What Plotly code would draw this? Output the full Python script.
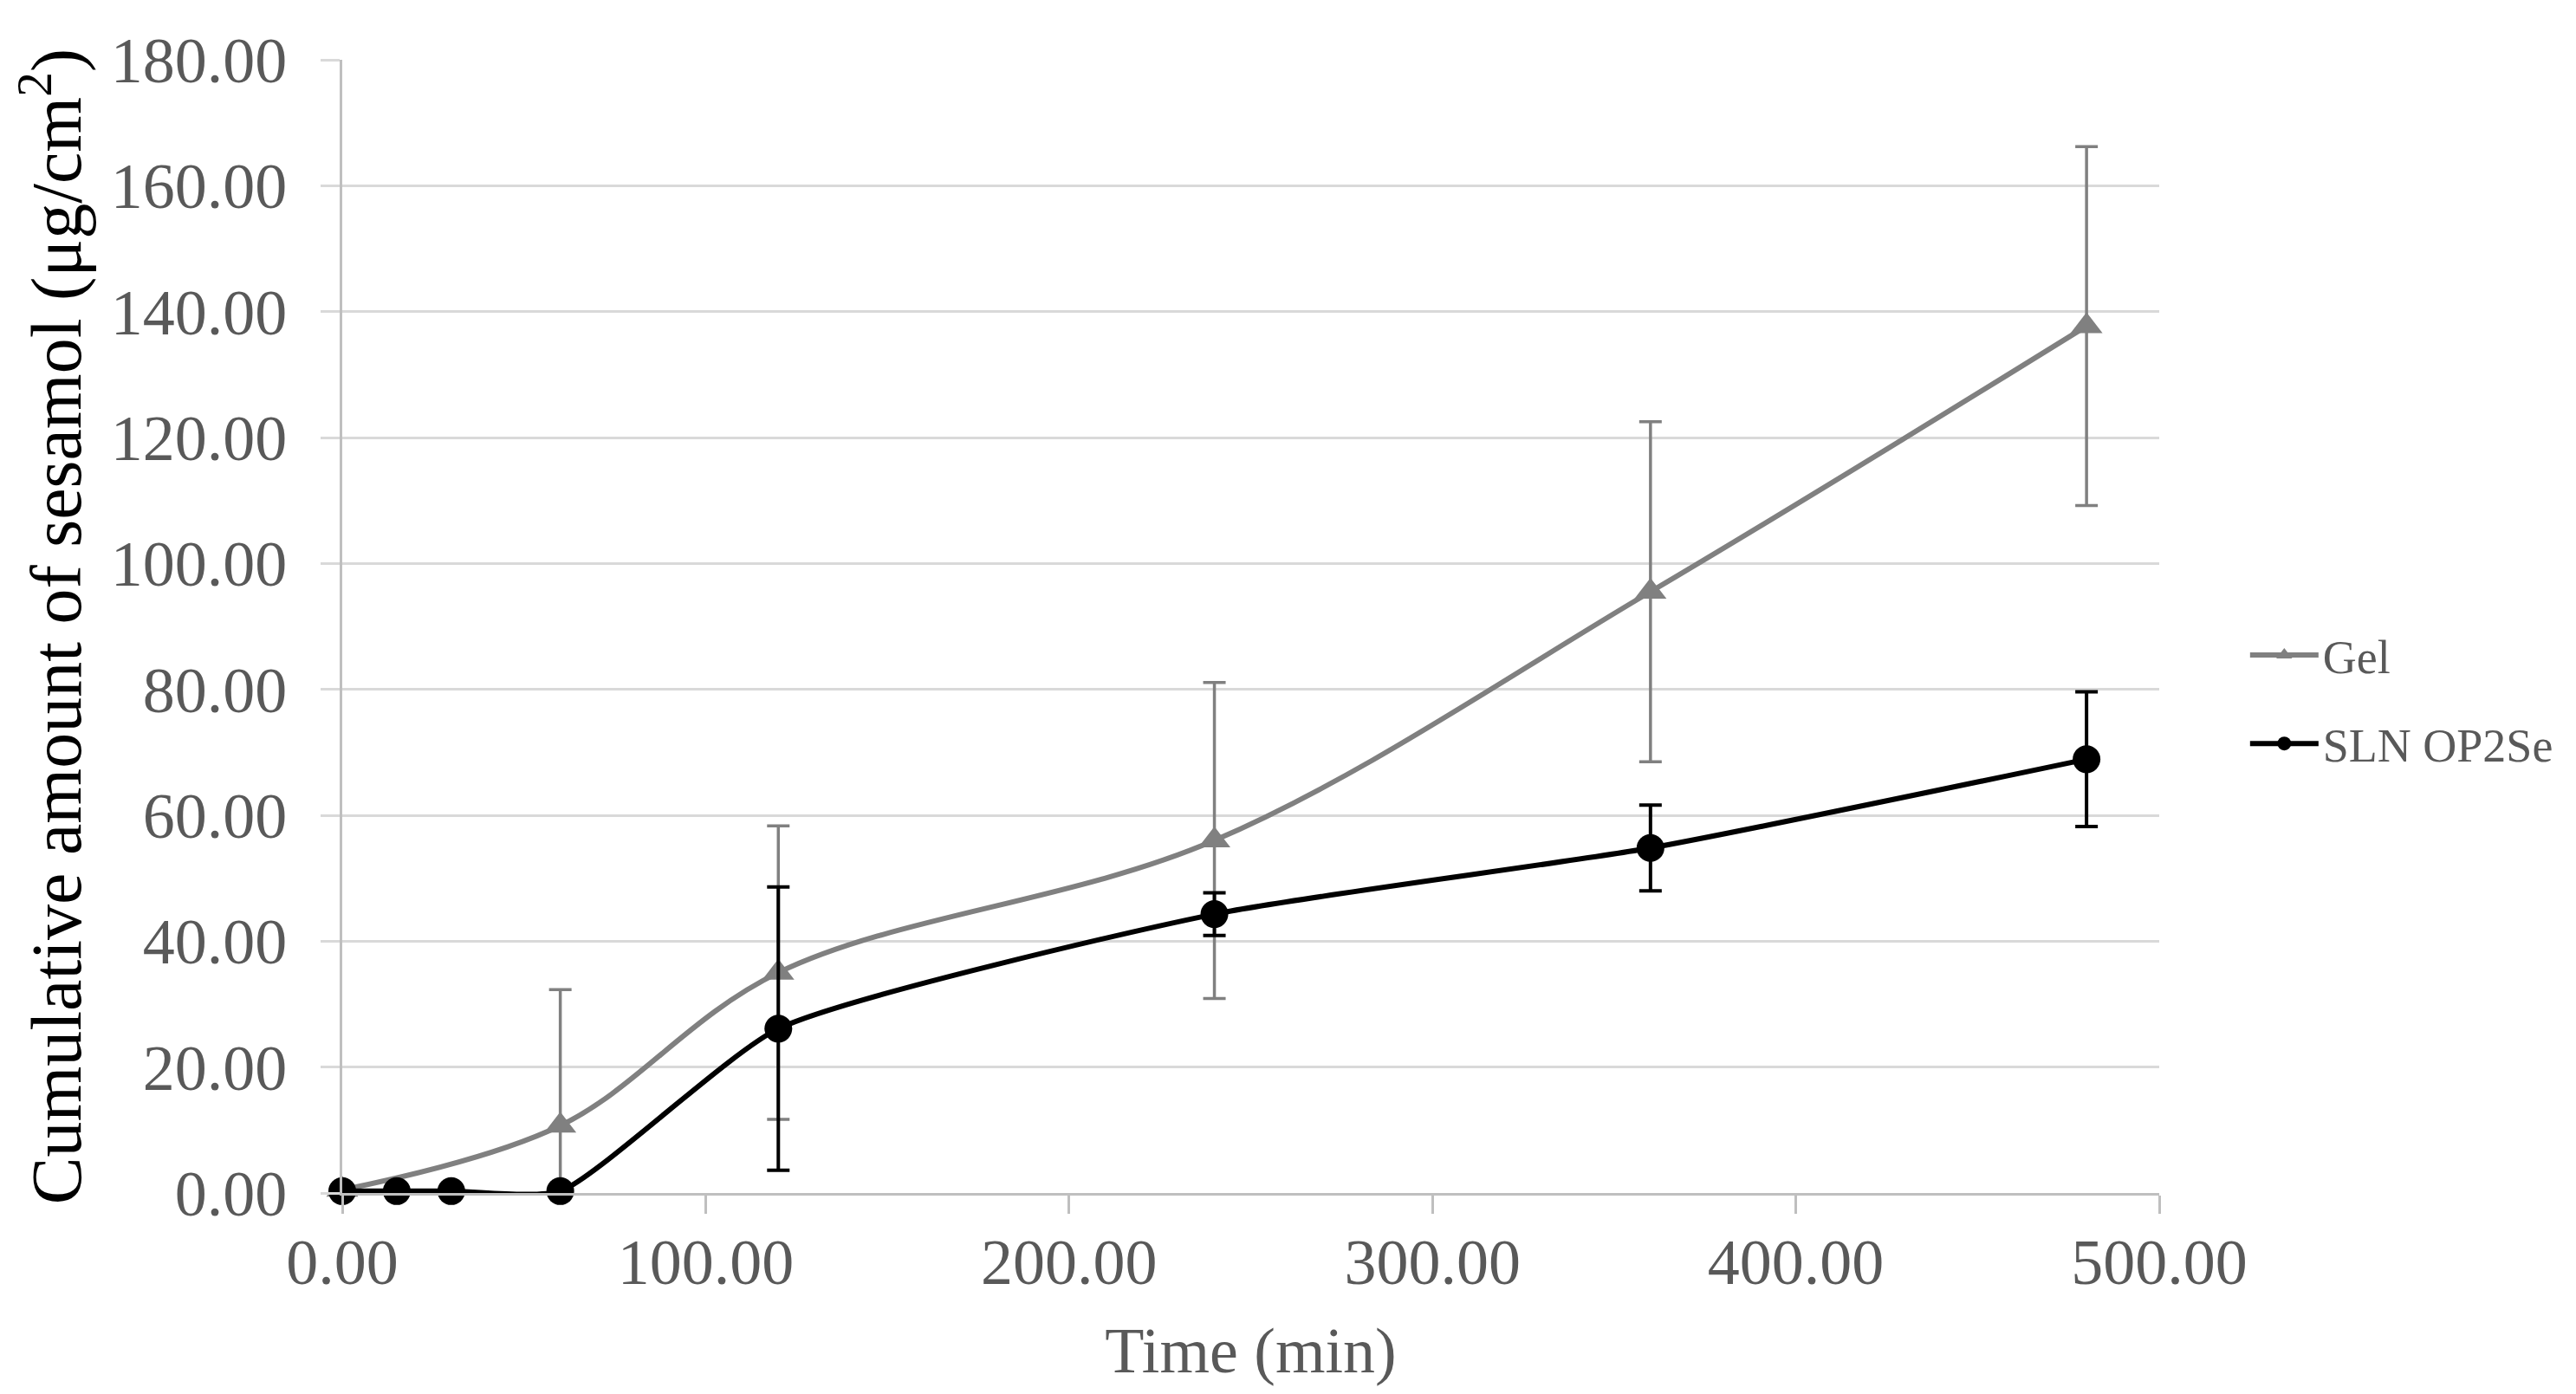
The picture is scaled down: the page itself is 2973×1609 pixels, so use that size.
import plotly.graph_objects as go

# ---- data ----
gel_time = [0, 60, 120, 240, 360, 480]
gel_value = [0.5, 10.7, 35.0, 56.0, 95.5, 137.7]
gel_error = [0.3, 21.6, 23.3, 25.1, 27.0, 28.5]

sln_time = [0, 15, 30, 60, 120, 240, 360, 480]
sln_value = [0.3, 0.3, 0.3, 0.3, 26.1, 44.3, 54.8, 68.9]
sln_error = [0.0, 0.0, 0.0, 0.0, 22.5, 3.4, 6.8, 10.7]

x_ticks = [0, 100, 200, 300, 400, 500]
y_ticks = [0, 20, 40, 60, 80, 100, 120, 140, 160, 180]

FONT = "Liberation Serif"
GRAY = "#808080"
LABEL = "#595959"

fig = go.Figure()

fig.add_trace(go.Scatter(
    x=gel_time, y=gel_value, name="Gel", mode="lines+markers",
    legendgroup="gel",
    line=dict(color=GRAY, width=6, shape="spline", smoothing=1.0),
    marker=dict(symbol="triangle-up", size=32, color=GRAY),
    error_y=dict(type="data", array=gel_error, visible=True,
                 color=GRAY, thickness=3.5, width=13),
    cliponaxis=False,
))

fig.add_trace(go.Scatter(
    x=sln_time, y=sln_value, name="SLN OP2Se", mode="lines+markers",
    legendgroup="sln",
    line=dict(color="black", width=6, shape="spline", smoothing=0.55),
    marker=dict(symbol="circle", size=32, color="black"),
    error_y=dict(type="data", array=sln_error, visible=True,
                 color="black", thickness=4, width=13),
    cliponaxis=False,
))

fig.update_layout(
    width=2973, height=1609,
    margin=dict(l=385, r=489, t=61, b=240),
    paper_bgcolor="white", plot_bgcolor="white",
    font=dict(family=FONT, size=74, color=LABEL),
    showlegend=True,
    legend=dict(
        x=1.0476, y=0.4355, xanchor="left", yanchor="middle",
        font=dict(family=FONT, size=54, color=LABEL),
        tracegroupgap=29, traceorder="grouped",
        bgcolor="rgba(0,0,0,0)", itemwidth=79,
    ),
    xaxis=dict(
        range=[0, 500], tickvals=x_ticks, tickformat=".2f",
        showgrid=False, zeroline=False,
        showline=True, linecolor="#bfbfbf", linewidth=3,
        ticks="outside", ticklen=21, tickwidth=3, tickcolor="#bfbfbf",
        tickfont=dict(family=FONT, size=74, color=LABEL),
        ticklabelstandoff=-8,
        title=dict(text="Time (min)", font=dict(family=FONT, size=74, color=LABEL),
                   standoff=36),
    ),
    yaxis=dict(
        range=[0, 180], tickvals=y_ticks, tickformat=".2f",
        showgrid=True, gridcolor="#d9d9d9", gridwidth=3,
        zeroline=False,
        showline=True, linecolor="#bfbfbf", linewidth=3,
        ticks="outside", ticklen=22, tickwidth=3, tickcolor="#d9d9d9",
        tickfont=dict(family=FONT, size=74, color=LABEL),
        ticklabelstandoff=24,
        title=dict(text="Cumulative amount of sesamol (μg/cm<sup>2</sup>)",
                   font=dict(family=FONT, size=82, color="black"),
                   standoff=50),
    ),
)

fig.write_html("out.html")
